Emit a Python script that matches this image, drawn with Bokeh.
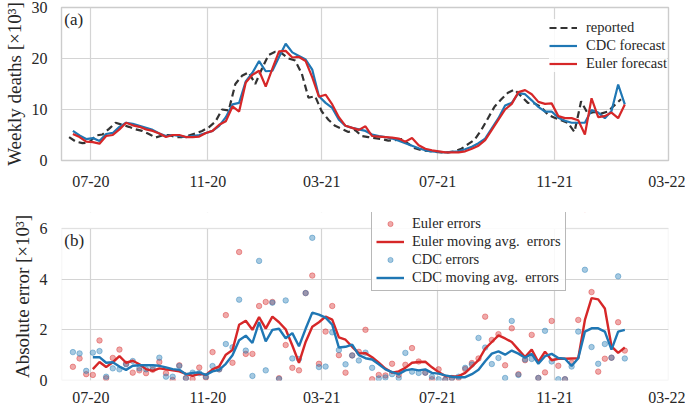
import pandas as pd
from bokeh.plotting import figure
from bokeh.layouts import column
from bokeh.models import (FixedTicker, DatetimeTickFormatter, Legend, LegendItem,
                          Label, Range1d, BoxAnnotation)
from bokeh.embed import file_html
from bokeh.resources import INLINE

# ---------------- data ----------------
reported_start = "2020-06-08"
forecast_start = "2020-06-12"

reported = [4.6, 3.7, 3.4, 3.5, 4.9, 5.1, 6.2, 7.4, 7.0, 6.6,
            6.1, 5.8, 5.2, 4.5, 4.9, 5.0, 4.6, 4.6, 4.9, 5.3,
            5.8, 6.5, 7.6, 10.0, 9.8, 15.0, 16.6, 17.3, 15.0, 18.0,
            20.7, 21.3, 21.0, 20.0, 19.6, 17.0, 12.3, 12.6, 9.6, 8.0,
            6.8, 6.2, 5.6, 6.0, 4.8, 4.6, 4.4, 4.2, 3.9, 4.0,
            4.2, 3.3, 2.4, 2.0, 1.9, 1.7, 1.6, 1.6, 1.8, 2.3,
            3.2, 4.1, 6.0, 8.3, 10.6, 12.0, 13.3, 13.9, 12.6, 11.3,
            11.2, 10.5, 9.0, 8.4, 7.9, 7.4, 5.6, 11.6, 9.2, 9.5,
            9.2, 9.6, 10.8, 12.0]

cdc_forecast = [5.8, 4.9, 4.2, 4.4, 3.8, 5.2, 5.4, 6.6, 7.4, 7.2,
                6.8, 6.4, 6.0, 5.3, 4.8, 5.0, 4.8, 4.6, 4.8, 5.0,
                5.4, 5.8, 6.8, 8.5, 11.0, 11.3, 15.5, 17.2, 19.5, 17.5,
                17.6, 20.3, 22.9, 21.2, 20.5, 19.8, 17.8, 12.6, 11.3, 10.3,
                8.0, 6.8, 6.4, 6.1, 5.8, 5.1, 4.8, 4.6, 4.3, 3.9,
                3.4, 2.9, 2.4, 2.0, 1.8, 1.7, 1.6, 1.7, 1.8, 2.2,
                2.7, 3.4, 4.3, 6.3, 8.3, 10.8, 11.3, 13.2, 13.0, 11.8,
                10.5, 9.6, 9.6, 8.4, 7.8, 7.4, 7.4, 7.4, 9.9, 9.4,
                8.3, 9.7, 14.9, 11.0]

euler_forecast = [5.2, 4.6, 3.7, 3.6, 3.3, 4.8, 5.0, 6.1, 7.4, 6.9,
                  6.6, 6.1, 5.8, 5.3, 4.6, 5.0, 5.0, 4.6, 4.6, 4.7,
                  5.4, 5.8, 7.0, 7.7, 10.6, 9.6, 15.3, 16.8, 17.6, 14.5,
                  18.0, 21.4, 21.5, 20.2, 20.3, 19.5, 16.3, 12.5, 12.9, 11.0,
                  8.5, 6.8, 6.4, 6.0, 6.7, 4.8, 4.7, 4.6, 4.5, 4.3,
                  3.7, 4.4, 3.0, 2.3, 2.0, 1.8, 1.6, 1.6, 1.6, 1.8,
                  2.3, 2.9, 4.0, 6.0, 8.0, 10.0, 11.1, 13.4, 13.8, 13.0,
                  11.5, 11.1, 11.2, 8.7, 8.3, 8.3, 7.9, 5.1, 12.2, 8.5,
                  8.7, 9.4, 8.3, 11.0]

euler_errors = [0.54, 0.87, 0.25, 0.22, 1.58, 0.09, 0.89, 1.22, 0.66, 0.31,
                0.40, 0.29, 0.42, 0.73, 0.29, 0.02, 0.60, 0.10, 0.06, 0.51,
                0.12, 1.12, 0.44, 2.58, 0.70, 5.07, 1.05, 1.05, 2.94, 3.10,
                3.10, 0.09, 1.40, 0.50, 0.40, 3.45, 4.14, 0.66, 1.93, 2.94,
                1.00, 0.31, 0.99, 1.13, 2.00, 0.05, 0.22, 0.20, 0.66, 0.22,
                0.62, 1.28, 0.75, 0.31, 0.05, 0.44, 0.04, 0.08, 0.10, 0.45,
                0.69, 0.87, 2.52, 1.60, 1.83, 0.60, 2.06, 0.25, 0.80, 1.80,
                0.10, 0.32, 2.35, 0.58, 0.05, 0.70, 2.39, 6.50, 3.49, 0.35,
                0.86, 0.90, 2.30, 1.18]

cdc_errors = [1.12, 1.07, 0.38, 1.10, 1.16, 0.15, 0.48, 0.44, 0.64, 0.77,
              0.48, 0.44, 0.51, 0.90, 0.15, 0.15, 0.57, 0.09, 0.31, 0.29,
              0.15, 0.57, 0.44, 1.44, 1.31, 3.19, 1.18, 0.18, 4.72, 0.40,
              3.07, 0.06, 3.16, 0.87, 0.85, 3.45, 5.63, 0.53, 0.55, 1.90,
              1.20, 0.64, 0.99, 0.79, 1.10, 0.50, 0.08, 0.12, 0.25, 0.10,
              1.09, 0.35, 0.30, 0.31, 0.15, 0.05, 0.02, 0.10, 0.15, 0.50,
              0.63, 1.68, 1.30, 0.65, 0.89, 0.10, 2.35, 0.22, 0.83, 0.85,
              0.10, 1.96, 0.75, 0.05, 0.05, 0.55, 1.93, 4.37, 1.32, 0.66,
              1.44, 0.90, 4.11, 0.87]

euler_moving_avg = [0.45, 0.73, 0.53, 0.72, 0.96, 0.70, 0.78, 0.64, 0.45, 0.38,
                    0.48, 0.44, 0.40, 0.36, 0.26, 0.18, 0.26, 0.22, 0.44, 0.56,
                    1.02, 1.20, 2.20, 2.36, 2.00, 2.50, 2.05, 2.52, 2.30, 2.02,
                    1.38, 0.70, 1.52, 2.12, 2.30, 2.52, 2.40, 1.70, 1.61, 1.33,
                    1.07, 1.08, 0.92, 0.70, 0.47, 0.31, 0.36, 0.50, 0.70, 0.73,
                    0.74, 0.52, 0.33, 0.18, 0.16, 0.17, 0.30, 0.55, 0.80, 1.26,
                    1.52, 1.78, 1.66, 1.52, 1.22, 0.93, 1.22, 0.73, 1.14, 0.80,
                    0.86, 0.86, 0.87, 0.88, 2.39, 3.25, 3.20, 2.84, 1.35, 1.09,
                    1.30]

cdc_moving_avg = [0.92, 0.92, 0.70, 0.72, 0.55, 0.42, 0.58, 0.60, 0.60, 0.60,
                  0.58, 0.52, 0.45, 0.42, 0.25, 0.30, 0.32, 0.22, 0.36, 0.42,
                  0.66, 1.00, 1.59, 1.77, 1.48, 2.30, 1.54, 2.00, 2.04, 1.67,
                  1.87, 1.35, 2.04, 2.68, 2.60, 2.48, 2.20, 1.30, 1.33, 1.42,
                  1.00, 0.88, 0.83, 0.64, 0.44, 0.33, 0.25, 0.40, 0.45, 0.40,
                  0.44, 0.30, 0.27, 0.20, 0.15, 0.13, 0.13, 0.25, 0.42, 0.76,
                  1.06, 1.15, 1.02, 1.18, 1.06, 0.90, 1.05, 0.66, 0.96, 1.05,
                  0.89, 0.86, 0.57, 0.88, 1.93, 2.06, 2.06, 1.93, 1.22, 1.93,
                  2.00]

tick_dates = ["2020-07-01", "2020-11-01", "2021-03-01", "2021-07-01", "2021-11-01", "2022-03-01"]
tick_labels = ["07-20", "11-20", "03-21", "07-21", "11-21", "03-22"]
top_yticks = [0, 10, 20, 30]
bottom_yticks = [0, 2, 4, 6]
bottom_ymax = 6

# ---------------- derived x positions ----------------
rep_dates = pd.date_range(reported_start, periods=len(reported), freq="7D")
fc_dates = pd.date_range(forecast_start, periods=len(cdc_forecast), freq="7D")
ma_dates = fc_dates[len(fc_dates) - len(euler_moving_avg):]

tick_ms = [float(pd.Timestamp(d).value // 10**6) for d in tick_dates]
overrides = {t: lab for t, lab in zip(tick_ms, tick_labels)}

FONT = "Liberation Serif"
RED = "#d62728"
BLUE = "#1f77b4"
DARK = "#333333"
GRID = "#d4d4d4"
EDGE = "#cccccc"
TXT = "#262626"
XSTART = pd.Timestamp("2020-05-31")
XEND = pd.Timestamp("2022-03-01")


def style(p, yticks, ylabel, xstandoff):
    p.background_fill_color = "white"
    p.border_fill_color = "white"
    p.outline_line_color = EDGE
    p.outline_line_width = 1.4
    p.xgrid.grid_line_color = GRID
    p.ygrid.grid_line_color = GRID
    p.xgrid.grid_line_width = 1.2
    p.ygrid.grid_line_width = 1.2
    p.xaxis.ticker = FixedTicker(ticks=tick_ms)
    p.xaxis.formatter = DatetimeTickFormatter(days="%m-%y", months="%m-%y", years="%m-%y")
    p.xaxis.major_label_overrides = overrides
    p.yaxis.ticker = FixedTicker(ticks=yticks)
    for ax in (p.xaxis[0], p.yaxis[0]):
        ax.axis_line_color = None
        ax.major_tick_line_color = None
        ax.minor_tick_line_color = None
        ax.major_label_text_font = FONT
        ax.major_label_text_font_size = "16px"
        ax.major_label_text_color = TXT
    p.xaxis.major_label_standoff = xstandoff
    p.yaxis.major_label_standoff = 8
    p.yaxis.axis_label = ylabel
    p.yaxis.axis_label_text_font = FONT
    p.yaxis.axis_label_text_font_size = "19px"
    p.yaxis.axis_label_text_font_style = "normal"
    p.yaxis.axis_label_text_color = TXT
    p.yaxis.axis_label_standoff = 4


# ---------------- top panel ----------------
p1 = figure(width=685, height=200, x_axis_type="datetime", output_backend="svg",
            toolbar_location=None, x_range=Range1d(XSTART, XEND), y_range=Range1d(0, 30),
            min_border_left=52, min_border_right=17, min_border_top=7, min_border_bottom=40)
style(p1, top_yticks, "Weekly deaths [×10³]", 9)

r_rep = p1.line(rep_dates, reported, line_color=DARK, line_width=2.2, line_dash="7 4")
r_cdc = p1.line(fc_dates, cdc_forecast, line_color=BLUE, line_width=2.2)
r_eul = p1.line(fc_dates, euler_forecast, line_color=RED, line_width=2.2)

leg1 = Legend(items=[LegendItem(label="reported", renderers=[r_rep]),
                     LegendItem(label="CDC forecast", renderers=[r_cdc]),
                     LegendItem(label="Euler forecast", renderers=[r_eul])],
              location=(488, 88), border_line_color=None,
              background_fill_color="white", background_fill_alpha=0.85,
              label_text_font=FONT, label_text_font_size="14.5px", label_text_color=TXT,
              label_height=17, glyph_height=17, glyph_width=28, spacing=1, padding=4,
              margin=0, label_standoff=9)
p1.add_layout(leg1, "center")
p1.add_layout(Label(x=pd.Timestamp("2020-06-03"), y=29.5, text="(a)", text_baseline="top",
                    text_font=FONT, text_font_size="17px", text_color=TXT))

# ---------------- bottom panel ----------------
# the y-range reaches a little above 6 so that the legend may overlap the top edge;
# everything above 6 is blanked and the panel edge is drawn at 6
p2 = figure(width=685, height=205, x_axis_type="datetime", output_backend="svg",
            toolbar_location=None, x_range=Range1d(XSTART, XEND), y_range=Range1d(0, 6.63),
            min_border_left=52, min_border_right=17, min_border_top=12, min_border_bottom=24)
style(p2, bottom_yticks, "Absolute error [×10³]", 5)
p2.outline_line_color = None

s_eul = p2.scatter(fc_dates, euler_errors, size=5.5, color=RED, alpha=0.4)
s_cdc = p2.scatter(fc_dates, cdc_errors, size=5.5, color=BLUE, alpha=0.4)
m_eul = p2.line(ma_dates, euler_moving_avg, line_color=RED, line_width=2.4)
m_cdc = p2.line(ma_dates, cdc_moving_avg, line_color=BLUE, line_width=2.4)

p2.add_layout(BoxAnnotation(bottom=bottom_ymax, fill_color="white", fill_alpha=1.0,
                            line_color=None))
p2.add_layout(BoxAnnotation(top=bottom_ymax, fill_color=None, fill_alpha=0,
                            line_color=EDGE, line_width=1.4))

leg2 = Legend(items=[LegendItem(label="Euler errors", renderers=[s_eul]),
                     LegendItem(label="Euler moving avg.  errors", renderers=[m_eul]),
                     LegendItem(label="CDC errors", renderers=[s_cdc]),
                     LegendItem(label="CDC moving avg.  errors", renderers=[m_cdc])],
              location=(310, 89), border_line_color="#b8b8b8", border_line_width=1.3,
              border_line_alpha=1.0,
              background_fill_color="white", background_fill_alpha=0.85,
              label_text_font=FONT, label_text_font_size="14.5px", label_text_color=TXT,
              label_height=17, glyph_height=13, glyph_width=28, spacing=1, padding=4,
              margin=0, label_standoff=8)
p2.add_layout(leg2, "center")
p2.add_layout(Label(x=pd.Timestamp("2020-06-03"), y=5.9, text="(b)", text_baseline="top",
                    text_font=FONT, text_font_size="17px", text_color=TXT))

layout = column(p1, p2, spacing=0)
open("out.html", "w").write(file_html(layout, INLINE))
